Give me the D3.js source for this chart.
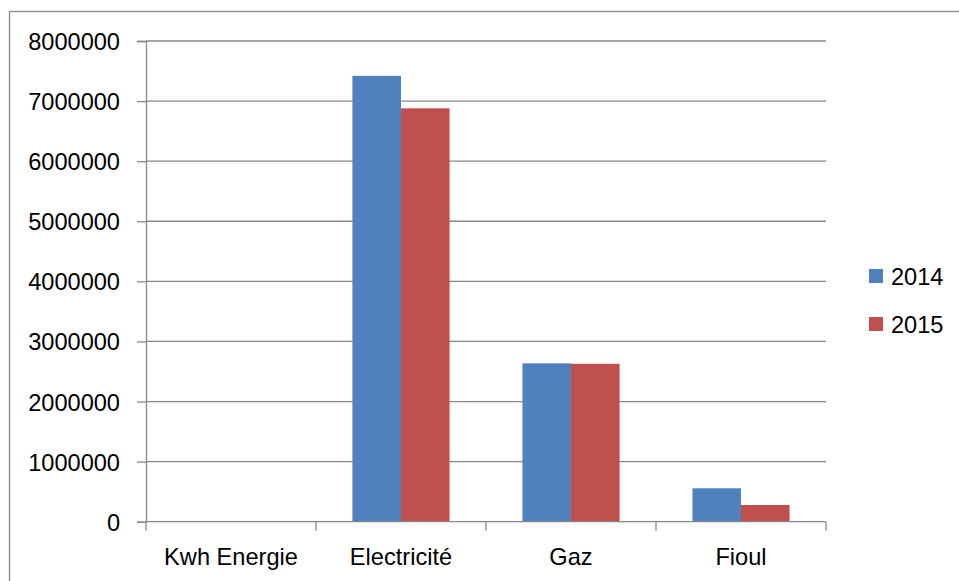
<!DOCTYPE html>
<html>
<head>
<meta charset="utf-8">
<script src="https://cdn.jsdelivr.net/npm/d3@7"></script>
<style>
  html, body { margin: 0; padding: 0; background: #fff; }
  svg { display: block; font-family: "Liberation Sans", Arial, sans-serif; }
</style>
</head>
<body>
<svg id="chart" width="959" height="581"></svg>
<script>
// Energy consumption (kWh) by source, 2014 vs 2015
const categories = ["Kwh Energie", "Electricité", "Gaz", "Fioul"];
const seriesNames = ["2014", "2015"];
const values2014 = [0, 7420000, 2635000, 556000];
const values2015 = [0, 6880000, 2628000, 278000];
const yTicks = [0, 1000000, 2000000, 3000000, 4000000, 5000000, 6000000, 7000000, 8000000];
const colors = ["#4F81BD", "#C0504D"];

const svg = d3.select("#chart");
const plot = { left: 146, right: 826, top: 41, bottom: 521.7 };
const gridColor = "#888888";
const fontSize = 23.6;

// outer chart frame (extends past the right and bottom edges)
svg.append("rect")
  .attr("x", 9.5).attr("y", 11.5)
  .attr("width", 1000).attr("height", 1000)
  .attr("fill", "none").attr("stroke", "#8a8a8a").attr("stroke-width", 1.3);

const x0 = d3.scaleBand().domain(categories).range([plot.left, plot.right]).paddingInner(0).paddingOuter(0);
const bw = x0.bandwidth() / 3.5; // gap width 150%
const x1 = d3.scaleBand().domain(seriesNames).range([0.75 * bw, 2.75 * bw]).padding(0);

const y = d3.scaleLinear().domain([0, 8000000]).range([plot.bottom, plot.top]);

// horizontal gridlines
svg.append("g").selectAll("line").data(yTicks.filter(d => d > 0)).join("line")
  .attr("x1", plot.left).attr("x2", plot.right)
  .attr("y1", d => y(d)).attr("y2", d => y(d))
  .attr("stroke", gridColor).attr("stroke-width", 1.3);

// bars
const rows = categories.map((c, i) => ({ cat: c, vals: [values2014[i], values2015[i]] }));
const groups = svg.append("g").selectAll("g").data(rows).join("g")
  .attr("transform", d => `translate(${x0(d.cat)},0)`);
groups.selectAll("rect")
  .data(d => d.vals.map((v, j) => ({ key: seriesNames[j], v, j })))
  .join("rect")
  .attr("x", d => x1(d.key))
  .attr("width", x1.bandwidth())
  .attr("y", d => y(d.v))
  .attr("height", d => plot.bottom - y(d.v))
  .attr("fill", d => colors[d.j]);

// y axis
const yAxis = d3.axisLeft(y).tickValues(yTicks).tickSize(9).tickPadding(17).tickFormat(d3.format("d"));
const gy = svg.append("g").attr("transform", `translate(${plot.left},0)`).call(yAxis);
gy.select(".domain").attr("stroke", gridColor).attr("stroke-width", 1.3);
gy.selectAll(".tick line").attr("stroke", gridColor).attr("stroke-width", 1.3);
gy.selectAll(".tick text").attr("font-size", fontSize).attr("fill", "#000")
  .attr("font-family", "Liberation Sans, Arial, sans-serif").attr("dy", "0.36em");

// x axis with ticks on category boundaries
const gx = svg.append("g").attr("transform", `translate(0,${plot.bottom})`);
gx.append("line").attr("x1", plot.left).attr("x2", plot.right)
  .attr("stroke", gridColor).attr("stroke-width", 1.3);
const boundaries = categories.map(c => x0(c)).concat([plot.right]);
gx.selectAll("line.tk").data(boundaries).join("line").attr("class", "tk")
  .attr("x1", d => d).attr("x2", d => d).attr("y1", 0).attr("y2", 9)
  .attr("stroke", gridColor).attr("stroke-width", 1.3);
gx.selectAll("text").data(categories).join("text")
  .attr("x", d => x0(d) + x0.bandwidth() / 2)
  .attr("y", 43.5)
  .attr("text-anchor", "middle")
  .attr("font-size", fontSize).attr("fill", "#000")
  .text(d => d);

// legend
const legend = svg.append("g").selectAll("g").data(seriesNames).join("g")
  .attr("transform", (d, i) => `translate(869,${269 + i * 48})`);
legend.append("rect").attr("width", 14).attr("height", 14).attr("fill", (d, i) => colors[i]);
legend.append("text").attr("x", 22).attr("y", 16)
  .attr("font-size", fontSize).attr("fill", "#000").text(d => d);
</script>
</body>
</html>
